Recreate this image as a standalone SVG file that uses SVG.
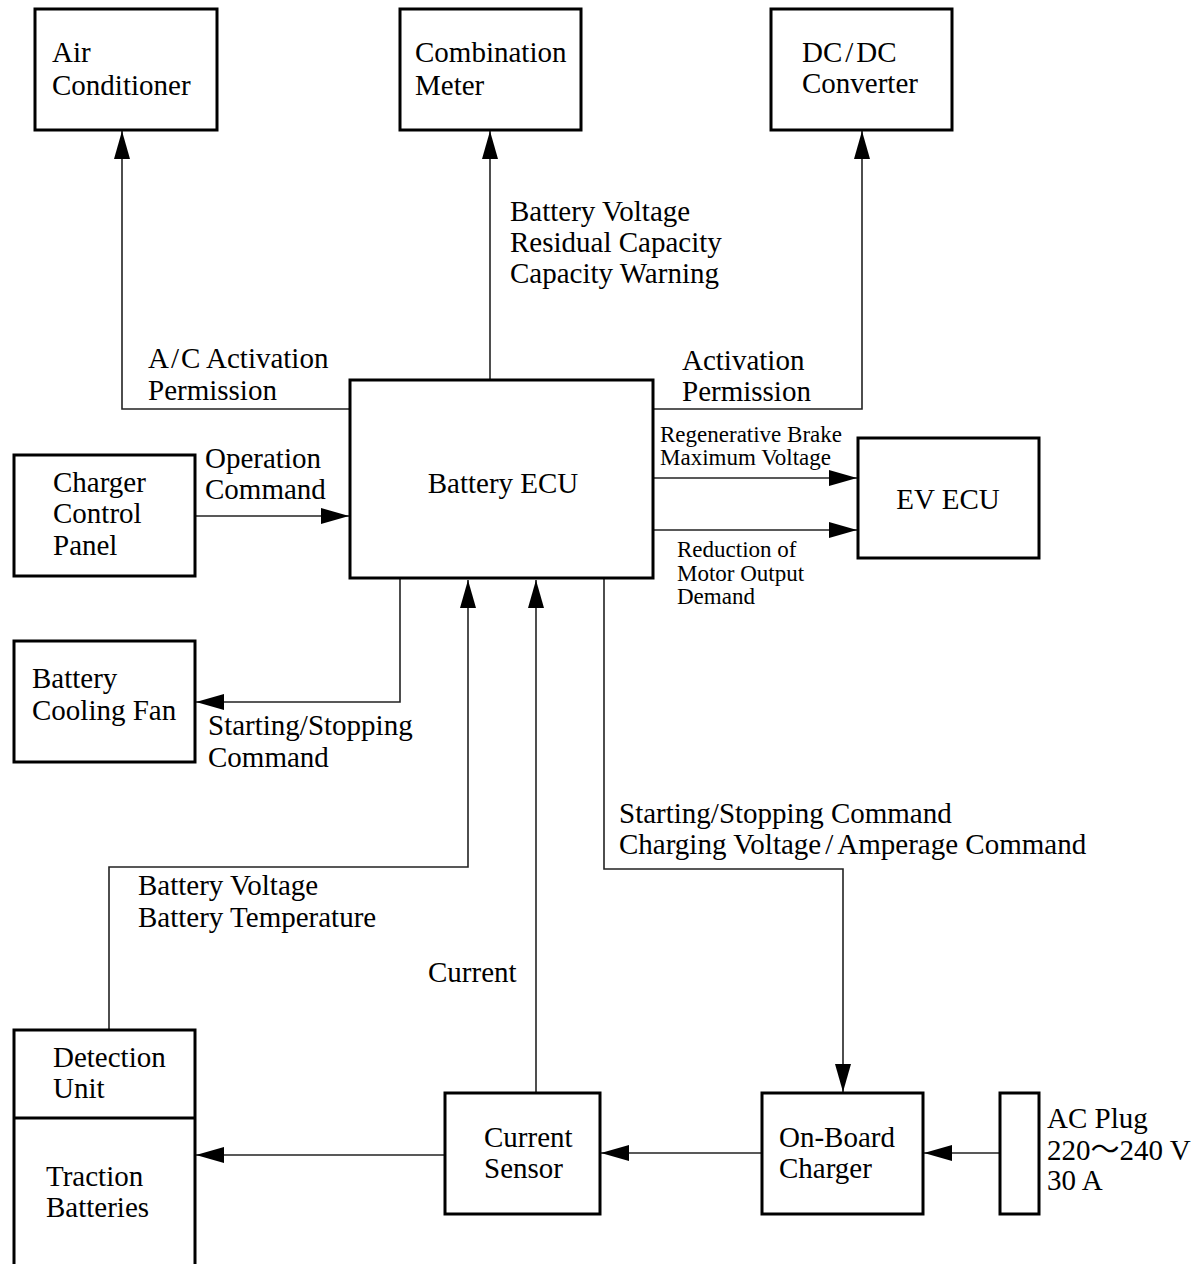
<svg xmlns="http://www.w3.org/2000/svg" width="1199" height="1264" viewBox="0 0 1199 1264">
<style>
.box{fill:#fff;stroke:#000;stroke-width:3}
.wire{fill:none;stroke:#222;stroke-width:1.6}
text{font-family:"Liberation Serif","Times New Roman","Noto Sans CJK JP",serif;font-size:29px;fill:#000}
.sm{font-size:23px}
.c{text-anchor:middle}
</style>
<defs>
<marker id="arr" markerUnits="userSpaceOnUse" markerWidth="28" markerHeight="16" viewBox="0 0 28 16" refX="28" refY="8" orient="auto">
<path d="M0,0 L28,8 L0,16 z" fill="#000"/>
</marker>
</defs>
<rect width="1199" height="1264" fill="#fff"/>
<g id="connectors" class="wire" marker-end="url(#arr)">
<path d="M350,409 H122 V131"/>
<path d="M490,379 V131"/>
<path d="M653,409 H862 V131"/>
<path d="M195,516 H349"/>
<path d="M653,478 H857"/>
<path d="M653,530 H857"/>
<path d="M400,578 V702 H196"/>
<path d="M109,1030 V867 H468 V580"/>
<path d="M536,1093 V580"/>
<path d="M604,578 V869 H843 V1092"/>
<path d="M445,1155 H196"/>
<path d="M762,1153 H601"/>
<path d="M1000,1153 H924"/>
</g>
<g id="air-conditioner">
<rect class="box" x="35" y="9" width="182" height="121"/>
<text x="52" y="62">Air</text>
<text x="52" y="95">Conditioner</text>
</g>
<g id="combination-meter">
<rect class="box" x="400" y="9" width="181" height="121"/>
<text x="415" y="62">Combination</text>
<text x="415" y="95">Meter</text>
</g>
<g id="dcdc-converter">
<rect class="box" x="771" y="9" width="181" height="121"/>
<text x="802" y="62">DC<tspan dx="3">/</tspan><tspan dx="3">DC</tspan></text>
<text x="802" y="93">Converter</text>
</g>
<g id="battery-ecu">
<rect class="box" x="350" y="380" width="303" height="198"/>
<text class="c" x="503" y="493">Battery ECU</text>
</g>
<g id="ev-ecu">
<rect class="box" x="858" y="438" width="181" height="120"/>
<text class="c" x="948" y="509">EV ECU</text>
</g>
<g id="charger-control-panel">
<rect class="box" x="14" y="455" width="181" height="121"/>
<text x="53" y="492">Charger</text>
<text x="53" y="523">Control</text>
<text x="53" y="555">Panel</text>
</g>
<g id="battery-cooling-fan">
<rect class="box" x="14" y="641" width="181" height="121"/>
<text x="32" y="688">Battery</text>
<text x="32" y="720">Cooling Fan</text>
</g>
<g id="traction-batteries">
<rect class="box" x="14" y="1030" width="181" height="250"/>
<line x1="14" y1="1118" x2="195" y2="1118" stroke="#000" stroke-width="3"/>
<text x="53" y="1067">Detection</text>
<text x="53" y="1098">Unit</text>
<text x="46" y="1186">Traction</text>
<text x="46" y="1217">Batteries</text>
</g>
<g id="current-sensor">
<rect class="box" x="445" y="1093" width="155" height="121"/>
<text x="484" y="1147">Current</text>
<text x="484" y="1178">Sensor</text>
</g>
<g id="on-board-charger">
<rect class="box" x="762" y="1093" width="161" height="121"/>
<text x="779" y="1147">On-Board</text>
<text x="779" y="1178">Charger</text>
</g>
<g id="ac-plug">
<rect class="box" x="1000" y="1093" width="39" height="121"/>
<text x="1047" y="1128">AC Plug</text>
<text x="1047" y="1160">220～240 V</text>
<text x="1047" y="1190">30 A</text>
</g>
<g id="labels">
<text x="510" y="221">Battery Voltage</text>
<text x="510" y="252">Residual Capacity</text>
<text x="510" y="283">Capacity Warning</text>
<text x="148" y="368">A<tspan dx="2">/</tspan><tspan dx="2">C</tspan> Activation</text>
<text x="148" y="400">Permission</text>
<text x="682" y="370">Activation</text>
<text x="682" y="401">Permission</text>
<text x="205" y="468">Operation</text>
<text x="205" y="499">Command</text>
<text class="sm" x="660" y="442">Regenerative Brake</text>
<text class="sm" x="660" y="465">Maximum Voltage</text>
<text class="sm" x="677" y="557">Reduction of</text>
<text class="sm" x="677" y="581">Motor Output</text>
<text class="sm" x="677" y="604">Demand</text>
<text x="208" y="735">Starting/Stopping</text>
<text x="208" y="767">Command</text>
<text x="619" y="823">Starting/Stopping Command</text>
<text x="619" y="854">Charging Voltage<tspan dx="4">/</tspan><tspan dx="4">Amperage</tspan> Command</text>
<text x="138" y="895">Battery Voltage</text>
<text x="138" y="927">Battery Temperature</text>
<text x="428" y="982">Current</text>
</g>
</svg>
